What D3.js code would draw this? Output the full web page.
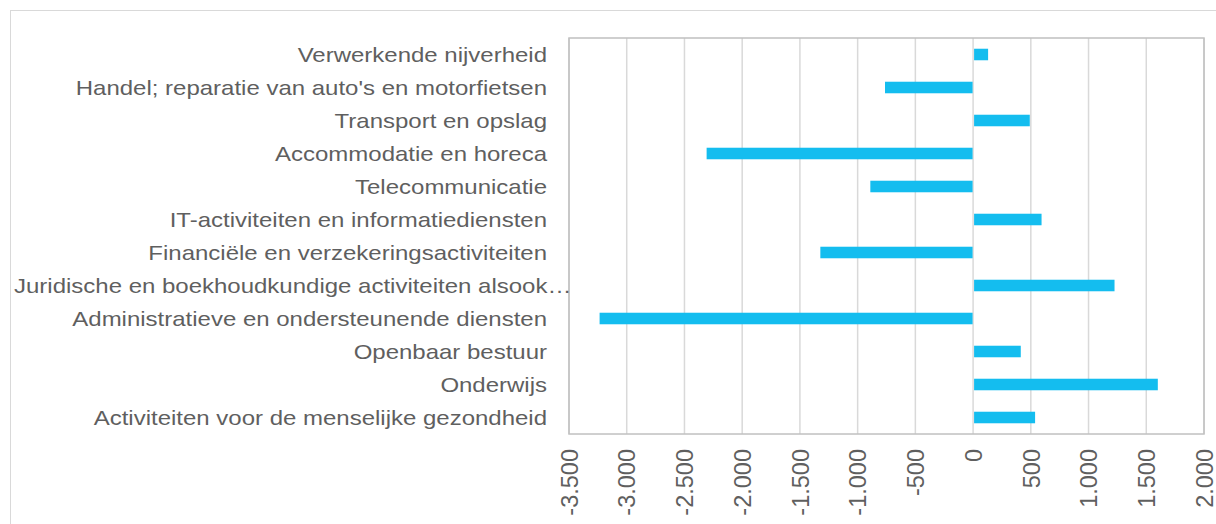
<!doctype html>
<html>
<head>
<meta charset="utf-8">
<title>Sectoren</title>
<script src="https://d3js.org/d3.v7.min.js"></script>
<style>
  body { margin: 0; background: #fff; }
  .tick text { fill: #5f5f5f; font-family: "Liberation Sans", Arial, sans-serif; }
</style>
</head>
<body>
<svg id="chart" width="1216" height="524"></svg>
<script>
var categories = [
  "Verwerkende nijverheid",
  "Handel; reparatie van auto's en motorfietsen",
  "Transport en opslag",
  "Accommodatie en horeca",
  "Telecommunicatie",
  "IT-activiteiten en informatiediensten",
  "Financiële en verzekeringsactiviteiten",
  "Juridische en boekhoudkundige activiteiten alsook…",
  "Administratieve en ondersteunende diensten",
  "Openbaar bestuur",
  "Onderwijs",
  "Activiteiten voor de menselijke gezondheid"
];
var values = [130, -763, 491, -2308, -890, 593, -1323, 1225, -3235, 413, 1600, 537];
var xTicks = [-3500, -3000, -2500, -2000, -1500, -1000, -500, 0, 500, 1000, 1500, 2000];

var svg = d3.select("#chart");
var plotLeft = 569, plotRight = 1204, plotTop = 38, plotBottom = 434;
var stretch = 1.2;

// outer chart frame
svg.append("rect")
  .attr("x", 10.5).attr("y", 10.5)
  .attr("width", 1230).attr("height", 540)
  .attr("fill", "none").attr("stroke", "#d9d9d9");

var x = d3.scaleLinear().domain([-3500, 2000]).range([plotLeft, plotRight]);
var y = d3.scaleBand().domain(categories).range([plotTop, plotBottom])
  .paddingInner(0.65).paddingOuter(0.325);

// gridlines
svg.append("g")
  .selectAll("line")
  .data(xTicks)
  .enter().append("line")
  .attr("x1", function(d) { return x(d); })
  .attr("x2", function(d) { return x(d); })
  .attr("y1", plotTop).attr("y2", plotBottom)
  .attr("stroke", "#d9d9d9").attr("stroke-width", 1.5);

// plot border
svg.append("rect")
  .attr("x", plotLeft).attr("y", plotTop)
  .attr("width", plotRight - plotLeft).attr("height", plotBottom - plotTop)
  .attr("fill", "none").attr("stroke", "#c0c0c0").attr("stroke-width", 1.5);

// bars
svg.append("g")
  .selectAll("rect")
  .data(values)
  .enter().append("rect")
  .attr("x", function(d) { return d >= 0 ? x(0) + 1 : x(d); })
  .attr("width", function(d) { return Math.abs(x(d) - x(0)) - (d >= 0 ? 1 : 0.5); })
  .attr("y", function(d, i) { return y(categories[i]); })
  .attr("height", y.bandwidth())
  .attr("fill", "#14bdef");

// category axis
var yAxis = svg.append("g")
  .attr("transform", "translate(" + plotLeft + ",0)")
  .call(d3.axisLeft(y).tickSize(0).tickPadding(0));
yAxis.select(".domain").remove();
yAxis.selectAll(".tick text")
  .attr("font-size", 20)
  .attr("x", -22 / stretch)
  .attr("dy", "0.35em")
  .attr("transform", "scale(" + stretch + ",1)");
yAxis.selectAll(".tick text")
  .filter(function(d) { return d.indexOf("Juridische") === 0; })
  .attr("text-anchor", "start")
  .attr("x", (14 - plotLeft) / stretch);

// value axis
var xAxis = svg.append("g")
  .attr("transform", "translate(0," + plotBottom + ")")
  .call(d3.axisBottom(x).tickValues(xTicks).tickSize(0)
    .tickFormat(function(d) { return d3.format(",")(d).replace(/,/g, ".").replace("−", "-"); }));
xAxis.select(".domain").remove();
xAxis.selectAll(".tick text")
  .attr("font-size", 23.5)
  .attr("text-anchor", "end")
  .attr("transform", "rotate(-90)")
  .attr("x", -15)
  .attr("y", 0)
  .attr("dy", "0.35em");
</script>
</body>
</html>
